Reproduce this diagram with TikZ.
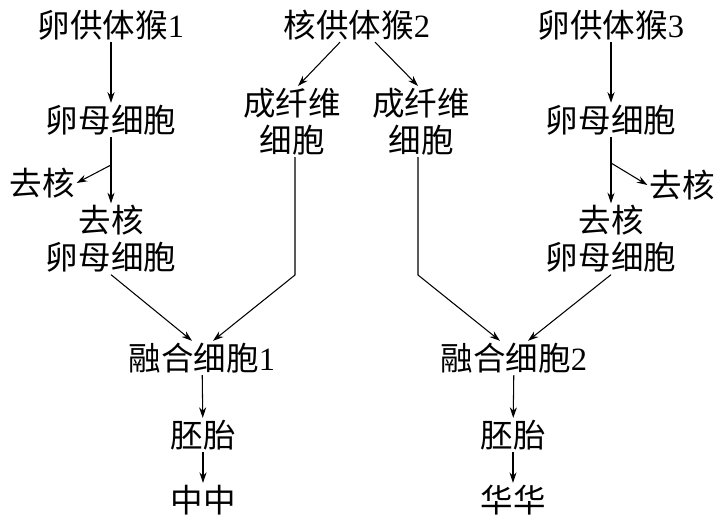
\documentclass[tikz,border=0pt]{standalone}
\usepackage{fontspec}
\setmainfont{Liberation Serif}
\newfontfamily\cjk{Noto Sans CJK SC}
\usetikzlibrary{arrows.meta}
\tikzset{
  lbl/.style={font=\cjk\fontsize{18.5}{21}\selectfont, inner sep=1pt, align=center},
  arr/.style={-{Stealth[length=6pt,width=4pt]}, line width=0.6pt}
}
\newcommand{\idx}[1]{{\rmfamily #1}}
\begin{document}
\begin{tikzpicture}
            \useasboundingbox (0,0) rectangle (14.44,10.56);
            \node[lbl] (d1) at (2.22,10.06) {卵供体猴\idx{1}};
            \node[lbl] (n2) at (7.14,10.06) {核供体猴\idx{2}};
            \node[lbl] (d3) at (12.22,10.06) {卵供体猴\idx{3}};
            \node[lbl] (oo1) at (2.22,8.16) {卵母细胞};
            \node[lbl] (oo3) at (12.22,8.16) {卵母细胞};
            \node[lbl] (fib1) at (5.84,8.13) {成纤维\\细胞};
            \node[lbl] (fib2) at (8.42,8.13) {成纤维\\细胞};
            \node[lbl] (enu1) at (0.84,6.90) {去核};
            \node[lbl] (enu3) at (13.64,6.86) {去核};
            \node[lbl] (eoo1) at (2.22,5.78) {去核\\卵母细胞};
            \node[lbl] (eoo3) at (12.22,5.78) {去核\\卵母细胞};
            \node[lbl] (fus1) at (4.04,3.40) {融合细胞\idx{1}};
            \node[lbl] (fus2) at (10.28,3.40) {融合细胞\idx{2}};
            \node[lbl] (emb1) at (4.06,1.86) {胚胎};
            \node[lbl] (emb2) at (10.26,1.86) {胚胎};
            \node[lbl] (zz) at (4.06,0.56) {中中};
            \node[lbl] (hh) at (10.26,0.56) {华华};
            \coordinate (b1) at (2.22,7.26);
            \coordinate (b3) at (12.22,7.30);
            \draw[arr] (d1) -- (oo1);
            \draw[arr] (d3) -- (oo3);
            \draw[arr] (oo1) -- (eoo1);
            \draw[arr] (oo3) -- (eoo3);
            \draw[arr] (b1) -- (enu1.east);
            \draw[arr] (b3) -- (enu3.west);
            \draw[arr] ([xshift=-0.34cm]n2.south) -- ([xshift=0.12cm]fib1.north);
            \draw[arr] ([xshift=0.36cm]n2.south) -- ([xshift=-0.06cm]fib2.north);
            \draw[arr] (eoo1.south) -- ([xshift=-0.2cm]fus1.north);
            \draw[arr] ([xshift=0.06cm]fib1.south) -- ([xshift=0.06cm]fib1.south |- 0,5.06) -- ([xshift=0.22cm]fus1.north);
            \draw[arr] ([xshift=-0.06cm]fib2.south) -- ([xshift=-0.06cm]fib2.south |- 0,5.06) -- ([xshift=-0.28cm]fus2.north);
            \draw[arr] (eoo3.south) -- ([xshift=0.28cm]fus2.north);
            \draw[arr] (fus1) -- (emb1);
            \draw[arr] (emb1) -- (zz);
            \draw[arr] (fus2) -- (emb2);
            \draw[arr] (emb2) -- (hh);
\end{tikzpicture}
\end{document}
